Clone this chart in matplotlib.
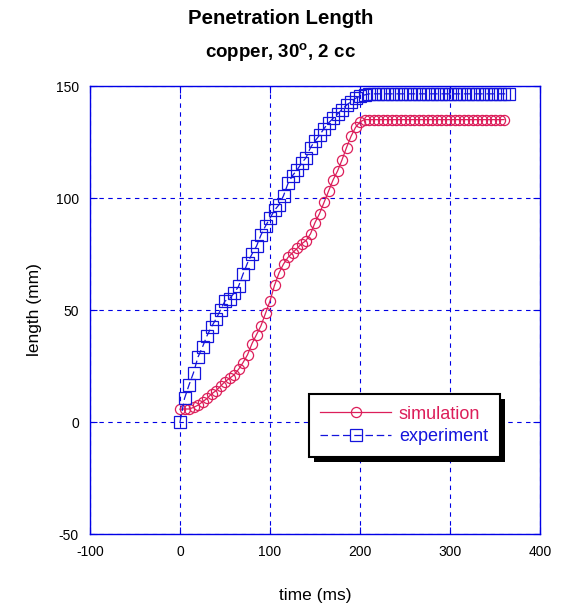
import matplotlib
matplotlib.use("Agg")
import matplotlib.pyplot as plt
from matplotlib.patches import Rectangle
import numpy as np

plt.rcParams['font.family'] = ['Liberation Sans', 'DejaVu Sans']
plt.rcParams['mathtext.fontset'] = 'custom'
plt.rcParams['mathtext.rm'] = 'Liberation Sans'
plt.rcParams['mathtext.bf'] = 'Liberation Sans:bold'
plt.rcParams['axes.unicode_minus'] = False

# simulation: time step 5 ms
sim_time = np.arange(0, 365, 5)
sim_length = [5.7, 5.8, 5.8, 6.5, 7.5, 9, 10.5, 12.5, 14, 16,
              18, 19.5, 21, 23.5, 26.5, 30, 35, 39, 43, 48.5,
              54, 61, 66.5, 70.5, 73.5, 75.5, 77.5, 79.5, 81, 84,
              89, 93, 98, 103, 108, 112, 117, 122.5, 127.5, 131.5,
              134, 135] + [135] * 31

# experiment: time step 5 ms
exp_time = np.arange(0, 370, 5)
exp_length = [0, 10.5, 16.5, 22, 29, 33.5, 38.5, 42.5, 46, 50,
              54, 55, 57.5, 60.5, 66, 71, 75, 78.5, 83.5, 87.5,
              91, 94.5, 97, 101, 106.5, 110, 112.5, 115.5, 118, 122.5,
              125.5, 128, 131, 133.5, 135.5, 137.5, 139.5, 141.5, 143, 144.5,
              145.5, 146] + [146.5] * 32

sim_color = '#DC1E5A'
exp_color = '#1414DC'
frame_blue = '#0000E6'

fig = plt.figure(figsize=(5.61, 6.07), dpi=100)
ax = fig.add_axes([90/561, 73/607, 450/561, 448/607])

ax.plot(sim_time, sim_length, color=sim_color, lw=0.9, marker='o', ms=7.3,
        mfc='none', mec=sim_color, mew=0.9, label='simulation')
ax.plot(exp_time, exp_length, color=exp_color, lw=0.9, ls=(0, (6, 3)), marker='s', ms=8.3,
        mfc='none', mec=exp_color, mew=0.9, label='experiment')

ax.set_xlim(-100, 400)
ax.set_ylim(-50, 150)
ax.set_xticks(np.arange(-100, 401, 100))
ax.set_yticks(np.arange(-50, 151, 50))
ax.grid(True, color=frame_blue, ls=(0, (4, 4)), lw=0.8)
ax.tick_params(direction='in', length=5, color=frame_blue, labelsize=10,
               top=True, right=True, pad=8)
for s in ax.spines.values():
    s.set_color(frame_blue)
    s.set_linewidth(1.0)

ax.set_xlabel('time (ms)', fontsize=12.5, labelpad=21)
ax.set_ylabel('length (mm)', fontsize=12.5, labelpad=10)

fig.text(0.5, 1 - 18/607, 'Penetration Length', ha='center', va='center',
         fontsize=14.7, fontweight='bold')
fig.text(0.5, 1 - 53/607, r'copper, 30$^\mathbf{o}$, 2 cc', ha='center', va='center',
         fontsize=13.5, fontweight='bold')

leg = ax.legend(loc='upper left', bbox_to_anchor=(0.486, 0.313), fontsize=13,
                handlelength=3.9, handletextpad=0.45, fancybox=False,
                edgecolor='black', framealpha=1, borderpad=0.65,
                labelspacing=0.32, borderaxespad=0)
leg.get_frame().set_linewidth(1.5)
for txt, c in zip(leg.get_texts(), [sim_color, exp_color]):
    txt.set_color(c)

# thick black drop shadow behind the legend box
fig.canvas.draw()
bb = leg.get_window_extent().transformed(fig.transFigure.inverted())
dx, dy = 5 / 561, -5 / 607
shadow = Rectangle((bb.x0 + dx, bb.y0 + dy), bb.width, bb.height,
                   transform=fig.transFigure, facecolor='black', edgecolor='none',
                   zorder=4.9, clip_on=False)
ax.add_artist(shadow)

fig.savefig('out.png', dpi=100)
